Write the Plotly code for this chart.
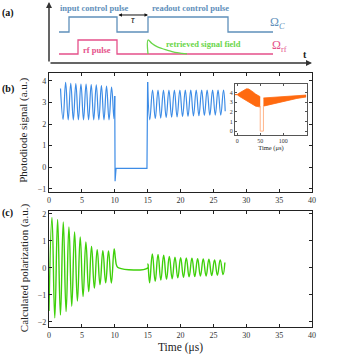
import plotly.graph_objects as go

# ---- panel (a): schematic pulse sequence (arbitrary units) ----
control_x = [10, 20, 20, 68, 68, 99, 99, 179, 179, 224]
control_y = [31, 31, 46, 46, 31, 31, 46, 46, 31, 31]
rf_x = [10, 29, 29, 68, 68, 224]
rf_y = [9, 9, 23, 23, 9, 9]
retrieved_x = [99, 99, 103, 108, 113, 118, 123, 128, 133, 138]
retrieved_y = [9, 23, 19.5, 16.3, 14.5, 13, 11.5, 10.3, 9.6, 9.1]

# ---- panel (b): photodiode signal, extrema ----
b1_t = [1.75, 2.14, 2.53, 2.92, 3.31, 3.70, 4.08, 4.47, 4.86, 5.25, 5.64, 6.02,
        6.42, 6.80, 7.19, 7.58, 7.97, 8.36, 8.75, 9.13, 9.52, 9.88, 10.0]
b1_v = [3.65, 2.22, 3.94, 2.2, 3.89, 2.2, 3.88, 2.2, 3.86, 2.2, 3.86, 2.2,
        3.83, 2.2, 3.82, 2.2, 3.78, 2.2, 3.76, 2.2, 3.72, 2.25, 3.3]
gap_t = [10.0, 10.05, 10.2, 14.9, 15.0]
gap_v = [3.3, -0.65, -0.05, -0.05, 3.95]
b2_t = [15.0, 15.33, 15.75, 16.16, 16.58, 16.99, 17.41, 17.82, 18.24, 18.65,
        19.07, 19.48, 19.90, 20.31, 20.73, 21.14, 21.56, 21.97, 22.39, 22.80,
        23.22, 23.63, 24.05, 24.46, 24.88, 25.29, 25.71, 26.12, 26.54, 26.8]
b2_v = [3.95, 2.2, 3.58, 2.25, 3.58, 2.28, 3.58, 2.3, 3.58, 2.32,
        3.58, 2.33, 3.58, 2.35, 3.58, 2.36, 3.58, 2.38, 3.58, 2.39,
        3.58, 2.4, 3.58, 2.41, 3.58, 2.42, 3.58, 2.42, 3.58, 2.6]

# inset: long record envelope
ins_t = [-5, 0, 5, 10, 15, 20, 25, 30, 35, 40, 45, 50]
ins_top = [3.8, 3.82, 3.98, 4.15, 4.3, 4.4, 4.38, 4.25, 4.05, 3.85, 3.7, 3.58]
ins_bot = [3.8, 3.78, 3.6, 3.45, 3.3, 3.15, 3.0, 2.85, 2.7, 2.6, 2.55, 2.5]
ins2_t = [57, 70, 85, 100, 115, 130, 150]
ins2_top = [3.45, 3.5, 3.55, 3.6, 3.65, 3.7, 3.75]
ins2_bot = [2.6, 2.75, 2.95, 3.1, 3.25, 3.4, 3.55]
drop_t = [50, 50, 57, 57]
drop_v = [2.6, 0.0, 0.0, 2.6]

# ---- panel (c): calculated polarization ----
c_t = [0.0, 0.45, 0.88, 1.31, 1.74, 2.17, 2.60, 3.03, 3.46, 3.89, 4.32, 4.75,
       5.18, 5.61, 6.04, 6.47, 6.90, 7.33, 7.76, 8.19, 8.62, 9.05, 9.48, 9.91,
       10.1, 10.3, 10.6, 15.0, 15.05, 15.3, 15.72, 16.15, 16.58, 17.01, 17.44,
       17.87, 18.3, 18.73, 19.16, 19.59, 20.02, 20.45, 20.88, 21.31, 21.74,
       22.17, 22.6, 23.03, 23.46, 23.89, 24.32, 24.75, 25.18, 25.61, 26.04,
       26.47, 26.75]
c_v = [-1.6, 1.87, -1.85, 1.8, -1.75, 1.7, -1.62, 1.52, -1.42, 1.33, -1.23, 1.15,
       -1.06, 0.96, -0.88, 0.8, -0.75, 0.68, -0.62, 0.64, -0.55, 0.63, -0.56, 0.7,
       0.35, 0.08, 0.0, 0.0, 0.15, -0.55, 0.52, -0.5, 0.5, -0.45, 0.47,
       -0.42, 0.43, -0.4, 0.4, -0.37, 0.38, -0.35, 0.37, -0.33, 0.36,
       -0.32, 0.34, -0.3, 0.33, -0.3, 0.32, -0.28, 0.3, -0.27, 0.3,
       -0.25, 0.2]

SERIF = "Liberation Serif"
SBLUE = "#5f90bb"
PINK = "#e5508a"
GREEN_A = "#6ad64a"
BLUE = "#3d8ce6"
GREEN = "#3fd00a"
ORANGE = "#ff6a10"

fig = go.Figure()

# schematic
fig.add_trace(go.Scatter(x=control_x, y=control_y, mode="lines",
                         line=dict(color=SBLUE, width=1.3), xaxis="x3", yaxis="y3"))
fig.add_trace(go.Scatter(x=rf_x, y=rf_y, mode="lines",
                         line=dict(color=PINK, width=1.3), xaxis="x3", yaxis="y3"))
fig.add_trace(go.Scatter(x=retrieved_x, y=retrieved_y, mode="lines",
                         line=dict(color=GREEN_A, width=1.3, shape="spline"),
                         xaxis="x3", yaxis="y3"))

# panel b
fig.add_trace(go.Scatter(x=b1_t, y=b1_v, mode="lines",
                         line=dict(color=BLUE, width=1.2, shape="spline", smoothing=1.2),
                         xaxis="x", yaxis="y"))
fig.add_trace(go.Scatter(x=gap_t, y=gap_v, mode="lines",
                         line=dict(color=BLUE, width=1.2), xaxis="x", yaxis="y"))
fig.add_trace(go.Scatter(x=b2_t, y=b2_v, mode="lines",
                         line=dict(color=BLUE, width=1.2, shape="spline", smoothing=1.2),
                         xaxis="x", yaxis="y"))

# inset
fig.add_trace(go.Scatter(x=ins_t, y=ins_bot, mode="lines",
                         line=dict(color=ORANGE, width=0.8), xaxis="x4", yaxis="y4"))
fig.add_trace(go.Scatter(x=ins_t, y=ins_top, mode="lines", fill="tonexty",
                         fillcolor=ORANGE, line=dict(color=ORANGE, width=0.8),
                         xaxis="x4", yaxis="y4"))
fig.add_trace(go.Scatter(x=ins2_t, y=ins2_bot, mode="lines",
                         line=dict(color=ORANGE, width=0.8), xaxis="x4", yaxis="y4"))
fig.add_trace(go.Scatter(x=ins2_t, y=ins2_top, mode="lines", fill="tonexty",
                         fillcolor=ORANGE, line=dict(color=ORANGE, width=0.8),
                         xaxis="x4", yaxis="y4"))
fig.add_trace(go.Scatter(x=drop_t, y=drop_v, mode="lines",
                         line=dict(color="#ffb58a", width=1), xaxis="x4", yaxis="y4"))

# panel c
fig.add_trace(go.Scatter(x=c_t, y=c_v, mode="lines",
                         line=dict(color=GREEN, width=1.4, shape="spline", smoothing=1.3),
                         xaxis="x2", yaxis="y2"))

frame = dict(showline=True, linecolor="#222", linewidth=1.2, mirror="ticks",
             ticks="inside", ticklen=3, tickcolor="#222", showgrid=False,
             zeroline=False, tickfont=dict(family=SERIF, size=8, color="#333"))

fig.update_layout(
    width=344, height=356,
    margin=dict(l=49, r=32, t=0, b=29, autoexpand=False),
    paper_bgcolor="white", plot_bgcolor="white",
    showlegend=False,
    font=dict(family=SERIF, color="#222"),
    xaxis=dict(frame, domain=[0, 1], range=[0, 40], dtick=5, anchor="y"),
    yaxis=dict(frame, domain=[0.4128, 0.7768], range=[-1.15, 4.37], dtick=1, anchor="x"),
    xaxis2=dict(frame, domain=[0, 1], range=[0, 40], dtick=5, anchor="y2"),
    yaxis2=dict(frame, domain=[0, 0.3547], range=[-2.19, 2.11], dtick=1, anchor="x2"),
    xaxis3=dict(domain=[0, 1], range=[0, 263], visible=False, anchor="y3"),
    yaxis3=dict(domain=[0.8073, 0.9939], range=[0, 61], visible=False, anchor="x3"),
    xaxis4=dict(domain=[0.7072, 0.981], range=[-5, 152], anchor="y4",
                showline=True, linecolor="#555", linewidth=1, mirror="ticks",
                ticks="inside", ticklen=2, tickcolor="#555", showgrid=False,
                zeroline=False, tickvals=[0, 50, 100],
                tickfont=dict(family=SERIF, size=6, color="#333"),
                title=dict(text="Time (μs)", font=dict(family=SERIF, size=6.5), standoff=2)),
    yaxis4=dict(domain=[0.5872, 0.7431], range=[-0.4, 4.9], anchor="x4",
                showline=True, linecolor="#555", linewidth=1, mirror="ticks",
                ticks="inside", ticklen=2, tickcolor="#555", showgrid=False,
                zeroline=False, dtick=1,
                tickfont=dict(family=SERIF, size=6, color="#333")),
)

ann = []
# schematic axes arrows
ann.append(dict(x=0, y=61, ax=0, ay=0, xref="x3", yref="y3", axref="x3", ayref="y3",
                showarrow=True, arrowhead=2, arrowsize=0.8, arrowwidth=1.5,
                arrowcolor="#333", text=""))
ann.append(dict(x=263, y=0, ax=0, ay=0, xref="x3", yref="y3", axref="x3", ayref="y3",
                showarrow=True, arrowhead=2, arrowsize=0.8, arrowwidth=1.5,
                arrowcolor="#333", text=""))
# tau double arrow
ann.append(dict(x=99, y=48, ax=68, ay=48, xref="x3", yref="y3", axref="x3", ayref="y3",
                showarrow=True, arrowhead=2, startarrowhead=2, arrowside="end+start",
                arrowsize=0.7, startarrowsize=0.7, arrowwidth=1, arrowcolor="#111", text=""))

def txt(x, y, s, color, size, bold=True, ref=("x3", "y3"), **kw):
    ann.append(dict(x=x, y=y, xref=ref[0], yref=ref[1], showarrow=False,
                    text=("<b>%s</b>" % s) if bold else s,
                    font=dict(family=SERIF, size=size, color=color), **kw))

txt(45.5, 55, "input control pulse", SBLUE, 8.5)
txt(141, 55, "readout control pulse", SBLUE, 8.5)
txt(48, 13, "rf pulse", PINK, 8.5)
txt(154.5, 19, "retrieved signal field", GREEN_A, 8.5)
txt(84, 44, "<i>τ</i>", "#111", 10, bold=False)
txt(256, 9, "t", "#222", 10)
txt(228, 40, "Ω<sub><i>C</i></sub>", SBLUE, 12, bold=False)
txt(230, 17, "Ω<sub>rf</sub>", PINK, 12, bold=False)

# panel labels
txt(-0.185, 0.985, "(a)", "#111", 10, ref=("paper", "paper"), xanchor="left")
txt(-0.185, 0.752, "(b)", "#111", 10, ref=("paper", "paper"), xanchor="left")
txt(-0.185, 0.35, "(c)", "#111", 10, ref=("paper", "paper"), xanchor="left")

# axis titles
txt(-0.095, 0.60, "Photodiode signal (a.u.)", "#222", 11, bold=False,
    ref=("paper", "paper"), textangle=-90, xanchor="center", yanchor="middle")
txt(-0.095, 0.18, "Calculated polarization (a.u.)", "#222", 11, bold=False,
    ref=("paper", "paper"), textangle=-90, xanchor="center", yanchor="middle")
txt(0.5, -0.062, "Time (μs)", "#222", 11.5, bold=False,
    ref=("paper", "paper"), yanchor="middle")

fig.update_layout(annotations=ann)

# the page body has a default 8px margin; remove it so the figure sits at the corner
fig.write_html("out.html", config={"displayModeBar": False},
               post_script="document.body.style.margin='0';")
